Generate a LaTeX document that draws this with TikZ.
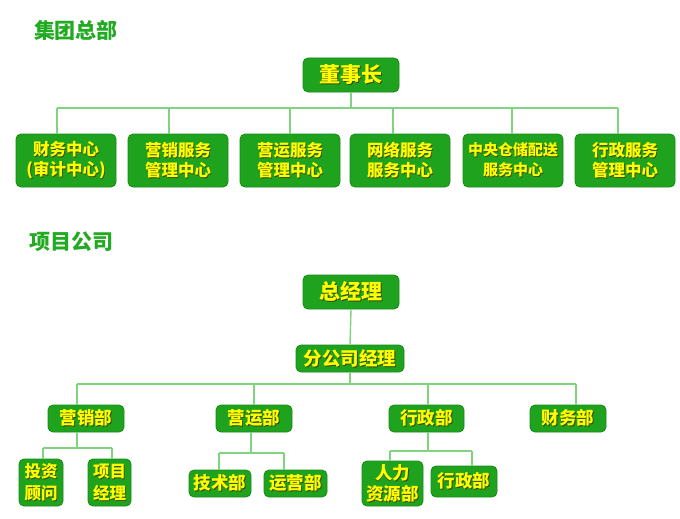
\documentclass[tikz,border=0pt]{standalone}
\usepackage{fontspec}
\setmainfont{Noto Sans CJK SC}
\newfontfamily\cjk{Noto Sans CJK SC}
\definecolor{boxg}{HTML}{1FA31F}
\definecolor{boxb}{HTML}{148A14}
\definecolor{txty}{HTML}{FFFF00}
\definecolor{shadowc}{HTML}{3A4A10}
\definecolor{linec}{HTML}{80D480}
\definecolor{titlec}{HTML}{22AA22}
\newcommand\shd[1]{\makebox[0pt][l]{\kern0.9pt\raisebox{-0.9pt}{\textcolor{shadowc}{#1}}}#1}
\begin{document}
\begin{tikzpicture}[x=1pt,y=-1pt,
  gbox/.style={draw=boxb,line width=0.8pt,fill=boxg,rounded corners=5pt,text=txty,
    inner sep=0pt,align=center,font=\cjk\bfseries\fontsize{16.5}{20}\selectfont},
  bigbox/.style={gbox,font=\cjk\bfseries\fontsize{21}{24}\selectfont},
  ln/.style={draw=linec,line width=1.4pt},
  ttl/.style={text=titlec,font=\cjk\bfseries\fontsize{21}{24}\selectfont,inner sep=0pt}]
\useasboundingbox[fill=white] (0,0) rectangle (680,519);
% ---------- Section 1 ----------
\node[ttl] (t1) at (76,30) {集团总部};
\node[bigbox,minimum width=96pt,minimum height=34pt] (top) at (351,75) {\shd{董事长}};
\node[gbox,minimum width=100pt,minimum height=53pt] (a) at (66,160.5) {\shd{财务中心}\\\shd{(审计中心)}};
\node[gbox,minimum width=100pt,minimum height=53pt] (b) at (178,160.5) {\shd{营销服务}\\\shd{管理中心}};
\node[gbox,minimum width=100pt,minimum height=53pt] (c) at (290,160.5) {\shd{营运服务}\\\shd{管理中心}};
\node[gbox,minimum width=100pt,minimum height=53pt] (d) at (400,160.5) {\shd{网络服务}\\\shd{服务中心}};
\node[gbox,minimum width=100pt,minimum height=53pt,font=\cjk\bfseries\fontsize{15}{20}\selectfont] (e) at (513,160.5) {\shd{中央仓储配送}\\\shd{服务中心}};
\node[gbox,minimum width=100pt,minimum height=53pt] (f) at (625,160.5) {\shd{行政服务}\\\shd{管理中心}};
\coordinate (pa) at (57,108);
\coordinate (pb) at (169,108);
\coordinate (pc) at (290,108);
\coordinate (pd) at (393,108);
\coordinate (pe) at (512,108);
\coordinate (pf) at (618,108);
\draw[ln] (top.south) -- (top.south |- pa);
\draw[ln] (pa) -- (pf);
\foreach \p/\n in {pa/a,pb/b,pc/c,pd/d,pe/e,pf/f}{\draw[ln] (\p) -- (\p |- \n.north);}
% ---------- Section 2 ----------
\node[ttl] (t2) at (71,242) {项目公司};
\node[bigbox,minimum width=96pt,minimum height=34pt] (gm) at (351,292) {\shd{总经理}};
\node[gbox,minimum width=108pt,minimum height=27pt,font=\cjk\bfseries\fontsize{18.5}{22}\selectfont] (fgs) at (350,358.5) {\shd{分公司经理}};
\draw[ln] (gm.south) -- (fgs.north);
\node[gbox,minimum width=76pt,minimum height=27pt,font=\cjk\bfseries\fontsize{17.5}{20}\selectfont] (yx) at (86,418.5) {\shd{营销部}};
\node[gbox,minimum width=76pt,minimum height=27pt,font=\cjk\bfseries\fontsize{17.5}{20}\selectfont] (yy) at (254,418.5) {\shd{营运部}};
\node[gbox,minimum width=75pt,minimum height=27pt,font=\cjk\bfseries\fontsize{17.5}{20}\selectfont] (xz) at (426.5,418.5) {\shd{行政部}};
\node[gbox,minimum width=76pt,minimum height=27pt,font=\cjk\bfseries\fontsize{17.5}{20}\selectfont] (cw) at (568,418.5) {\shd{财务部}};
\coordinate (q1) at (77,384);
\coordinate (q2) at (254,384);
\coordinate (q3) at (428,384);
\coordinate (q4) at (576,384);
\draw[ln] (fgs.south) -- (fgs.south |- q1);
\draw[ln] (q1) -- (q4);
\foreach \p/\n in {q1/yx,q2/yy,q3/xz,q4/cw}{\draw[ln] (\p) -- (\p |- \n.north);}
% sub level
\node[gbox,minimum width=44pt,minimum height=47pt,font=\cjk\bfseries\fontsize{16.5}{22}\selectfont] (tz) at (41,482.5) {\shd{投资}\\\shd{顾问}};
\node[gbox,minimum width=43pt,minimum height=47pt,font=\cjk\bfseries\fontsize{16.5}{22}\selectfont] (xm) at (109.5,482.5) {\shd{项目}\\\shd{经理}};
\node[gbox,minimum width=62pt,minimum height=27pt,font=\cjk\bfseries\fontsize{17.5}{20}\selectfont] (js) at (220,483.5) {\shd{技术部}};
\node[gbox,minimum width=63pt,minimum height=27pt,font=\cjk\bfseries\fontsize{17.5}{20}\selectfont] (yyb) at (295.5,483.5) {\shd{运营部}};
\node[gbox,minimum width=61pt,minimum height=45pt,font=\cjk\bfseries\fontsize{17.5}{21}\selectfont] (rl) at (392.5,483.5) {\shd{人力}\\\shd{资源部}};
\node[gbox,minimum width=66pt,minimum height=31pt,font=\cjk\bfseries\fontsize{17.5}{20}\selectfont] (xz2) at (464,481.5) {\shd{行政部}};
% sub connectors
\coordinate (s1) at (77,448);
\coordinate (s1l) at (43,448);
\coordinate (s1r) at (112,448);
\draw[ln] (s1 |- yx.south) -- (s1);
\draw[ln] (s1l) -- (s1r);
\draw[ln] (s1l) -- (s1l |- tz.north);
\draw[ln] (s1r) -- (s1r |- xm.north);
\coordinate (s2) at (251,453);
\coordinate (s2l) at (219,453);
\coordinate (s2r) at (284,453);
\draw[ln] (s2 |- yy.south) -- (s2);
\draw[ln] (s2l) -- (s2r);
\draw[ln] (s2l) -- (s2l |- js.north);
\draw[ln] (s2r) -- (s2r |- yyb.north);
\coordinate (s3) at (428,451);
\coordinate (s3l) at (390,451);
\coordinate (s3r) at (472,451);
\draw[ln] (s3 |- xz.south) -- (s3);
\draw[ln] (s3l) -- (s3r);
\draw[ln] (s3l) -- (s3l |- rl.north);
\draw[ln] (s3r) -- (s3r |- xz2.north);
\end{tikzpicture}
\end{document}
